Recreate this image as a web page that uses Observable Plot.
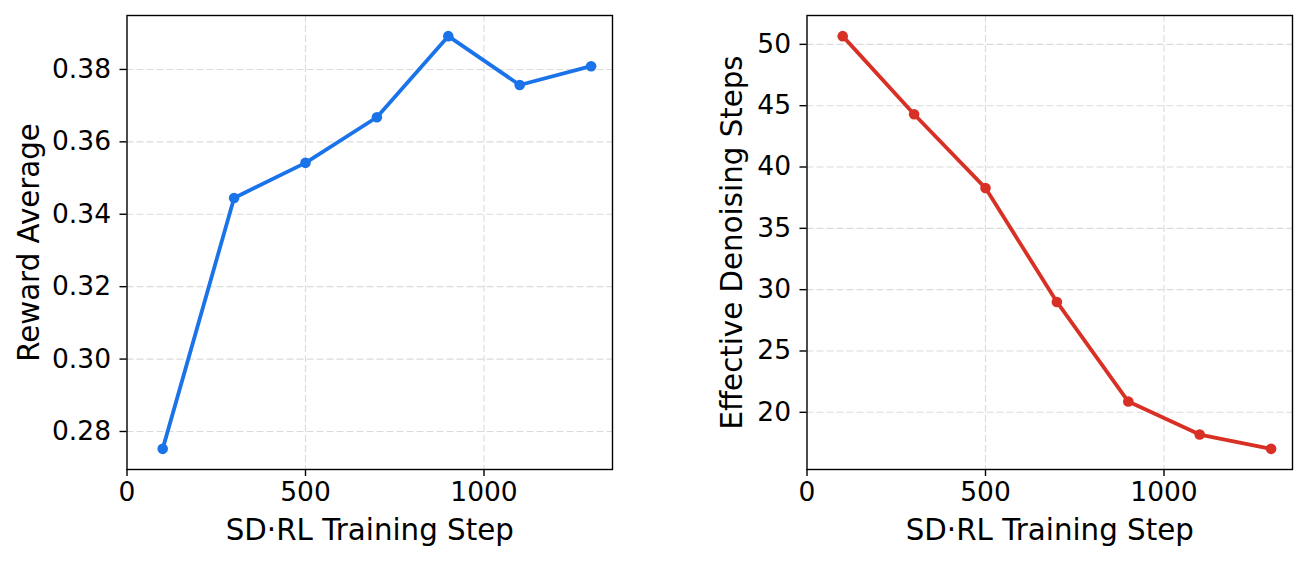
<!DOCTYPE html>
<html><head><meta charset="utf-8">
<script src="https://cdn.jsdelivr.net/npm/d3@7"></script>
<script src="https://cdn.jsdelivr.net/npm/@observablehq/plot@0.6"></script>
<style>
body{margin:0;background:#fff;width:1307px;height:562px;overflow:hidden;position:relative;font-family:"DejaVu Sans",sans-serif;}
#left,#right{position:absolute;top:0}
#left{left:0}
#right{left:680px}
</style></head><body>
<div id="left"></div><div id="right"></div>
<script>
const steps = [100, 300, 500, 700, 900, 1100, 1300];
const rewardAvg = [0.2752, 0.3445, 0.3542, 0.3668, 0.3892, 0.3757, 0.3809];
const denoiseSteps = [50.67, 44.30, 38.28, 29.00, 20.88, 18.19, 17.02];
const xTicks = [0, 500, 1000];
const rewardTicks = [0.28, 0.30, 0.32, 0.34, 0.36, 0.38];
const denoiseTicks = [20, 25, 30, 35, 40, 45, 50];
const xLabel = "SD·RL Training Step";
const leftYLabel = "Reward Average";
const rightYLabel = "Effective Denoising Steps";
const blue = "#1a73e8";
const red = "#d93025";

function panel({values, color, yTicks, yLabel, yFormat, width, marginLeft, marginRight, labelDx}) {
  const data = steps.map((s, i) => ({step: s, value: values[i]}));
  const [lo, hi] = d3.extent(values);
  const pad = (hi - lo) * 0.05;
  const gridStyle = {stroke: "#b0b0b0", strokeOpacity: 0.45, strokeDasharray: "7,3", strokeWidth: 1.1};
  return Plot.plot({
    width, height: 562, marginLeft, marginRight, marginTop: 15, marginBottom: 93,
    style: {fontFamily: '"DejaVu Sans", sans-serif', background: "#fff", color: "#000", overflow: "visible"},
    x: {domain: [0, 1360]},
    y: {domain: [lo - pad, hi + pad]},
    marks: [
      Plot.gridX(xTicks.filter(d => d > 0), gridStyle),
      Plot.gridY(yTicks, gridStyle),
      Plot.line(data, {x: "step", y: "value", stroke: color, strokeWidth: 3.8}),
      Plot.dot(data, {x: "step", y: "value", fill: color, r: 5.3}),
      Plot.frame({stroke: "#000", strokeWidth: 1.4}),
      Plot.axisX(xTicks, {tickSize: 7, tickPadding: 6, fontSize: 26.5, strokeWidth: 1.4, label: null, tickFormat: d => String(d)}),
      Plot.axisY(yTicks, {tickSize: 7, tickPadding: 9, fontSize: 26.5, strokeWidth: 1.4, label: null, tickFormat: yFormat}),
      Plot.text([xLabel], {text: d => d, frameAnchor: "bottom", dy: 61, fontSize: 29.3, lineAnchor: "middle"}),
      Plot.text([yLabel], {text: d => d, frameAnchor: "left", textAnchor: "middle", rotate: -90, dx: labelDx, fontSize: 29.3, lineAnchor: "middle"})
    ]
  });
}

document.getElementById("left").append(panel({
  values: rewardAvg, color: blue, yTicks: rewardTicks, yLabel: leftYLabel,
  yFormat: d3.format(".2f"), width: 650, marginLeft: 126.5, marginRight: 38, labelDx: -97.5
}));
document.getElementById("right").append(panel({
  values: denoiseSteps, color: red, yTicks: denoiseTicks, yLabel: rightYLabel,
  yFormat: d => String(d), width: 627, marginLeft: 126.5, marginRight: 15, labelDx: -74.5
}));
</script>
</body></html>
